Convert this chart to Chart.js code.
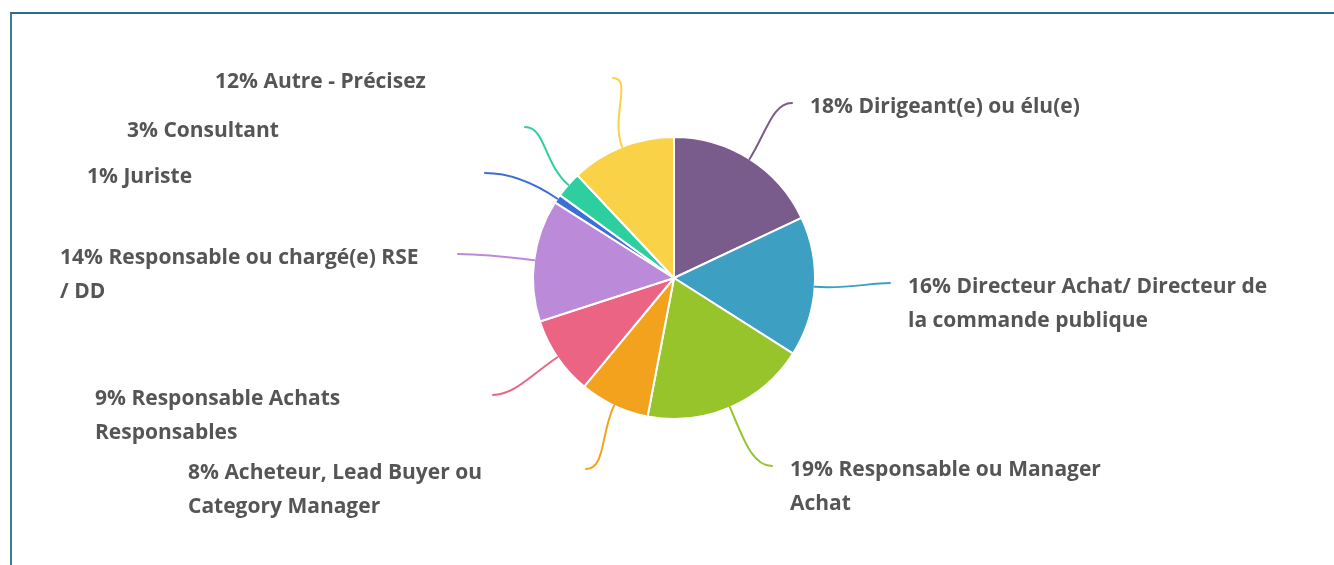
<!DOCTYPE html>
<html>
<head>
<meta charset="utf-8">
<script src="https://cdn.jsdelivr.net/npm/chart.js@4.4.1/dist/chart.umd.min.js"></script>
<style>
  html, body { margin: 0; padding: 0; background: #fff; }
  #wrap { position: relative; width: 1334px; height: 565px; overflow: hidden; }
  #frame { position: absolute; left: 10px; top: 12px; right: -10px; bottom: -10px;
           border-top: 2px solid #2F6C8B; border-left: 2px solid #3A7C9C; pointer-events: none; }
  canvas { position: absolute; left: 0; top: 0; }
</style>
</head>
<body>
<div id="wrap">
  <canvas id="c" width="1334" height="565"></canvas>
  <div id="frame"></div>
</div>
<script>
// ---- data ----
const categories = [
  ["Dirigeant(e) ou élu(e)"],
  ["Directeur Achat/ Directeur de", "la commande publique"],
  ["Responsable ou Manager", "Achat"],
  ["Acheteur, Lead Buyer ou", "Category Manager"],
  ["Responsable Achats", "Responsables"],
  ["Responsable ou chargé(e) RSE", "/ DD"],
  ["Juriste"],
  ["Consultant"],
  ["Autre - Précisez"]
];
const percentages = [18, 16, 19, 8, 9, 14, 1, 3, 12];
const colors = ["#7A5C8C", "#3DA0C2", "#97C42A", "#F2A21C", "#EC6484", "#BB8BDA", "#3D6DD6", "#2ECF9E", "#FAD247"];

// ---- label layout (offsets of each leader-line end from the pie centre) ----
const labelLayout = {
  offsets: [[118,-175],[216,5],[98,188],[-88,191],[-181,117],[-216,-24],[-189,-105],[-149,-151],[-61,-200]],
  gap: 18, boxWidth: 380, lineHeight: 34, dy: 4,
  font: "700 21px 'Open Sans'", color: "#555555"
};

const leaderPlugin = {
  id: 'leaders',
  afterDatasetsDraw(chart) {
    const ctx = chart.ctx;
    const arcs = chart.getDatasetMeta(0).data;
    arcs.forEach((arc, i) => {
      const p = arc.getProps(['x','y','startAngle','endAngle','outerRadius'], true);
      const mid = (p.startAngle + p.endAngle) / 2;
      const dx = Math.cos(mid), dy = Math.sin(mid);
      const sx = p.x + dx * p.outerRadius, sy = p.y + dy * p.outerRadius;
      const ex = p.x + labelLayout.offsets[i][0], ey = p.y + labelLayout.offsets[i][1];
      const right = labelLayout.offsets[i][0] > 0;
      const dist = Math.hypot(ex - sx, ey - sy);
      const k1 = dist * 0.45, k2 = dist * 0.28;
      ctx.save();
      ctx.strokeStyle = colors[i];
      ctx.lineWidth = 2;
      ctx.lineCap = 'round';
      ctx.beginPath();
      ctx.moveTo(sx, sy);
      ctx.bezierCurveTo(sx + dx * k1, sy + dy * k1, ex + (right ? -k2 : k2), ey, ex, ey);
      ctx.stroke();
      ctx.fillStyle = labelLayout.color;
      ctx.font = labelLayout.font;
      ctx.textBaseline = 'middle';
      ctx.textAlign = 'left';
      const tx = right ? ex + labelLayout.gap : ex - labelLayout.gap - labelLayout.boxWidth;
      const lines = categories[i].slice();
      lines[0] = percentages[i] + "% " + lines[0];
      lines.forEach((ln, j) => {
        ctx.fillText(ln, tx, ey + labelLayout.dy + j * labelLayout.lineHeight);
      });
      ctx.restore();
    });
  }
};

new Chart(document.getElementById('c'), {
  type: 'pie',
  data: {
    labels: categories.map(c => c.join(' ')),
    datasets: [{
      data: percentages,
      backgroundColor: colors,
      borderColor: '#ffffff',
      borderWidth: 2
    }]
  },
  options: {
    responsive: false,
    animation: false,
    layout: { padding: { left: 374, right: 360, top: 136, bottom: 145 } },
    plugins: { legend: { display: false }, tooltip: { enabled: false } }
  },
  plugins: [leaderPlugin]
});
</script>
</body>
</html>
